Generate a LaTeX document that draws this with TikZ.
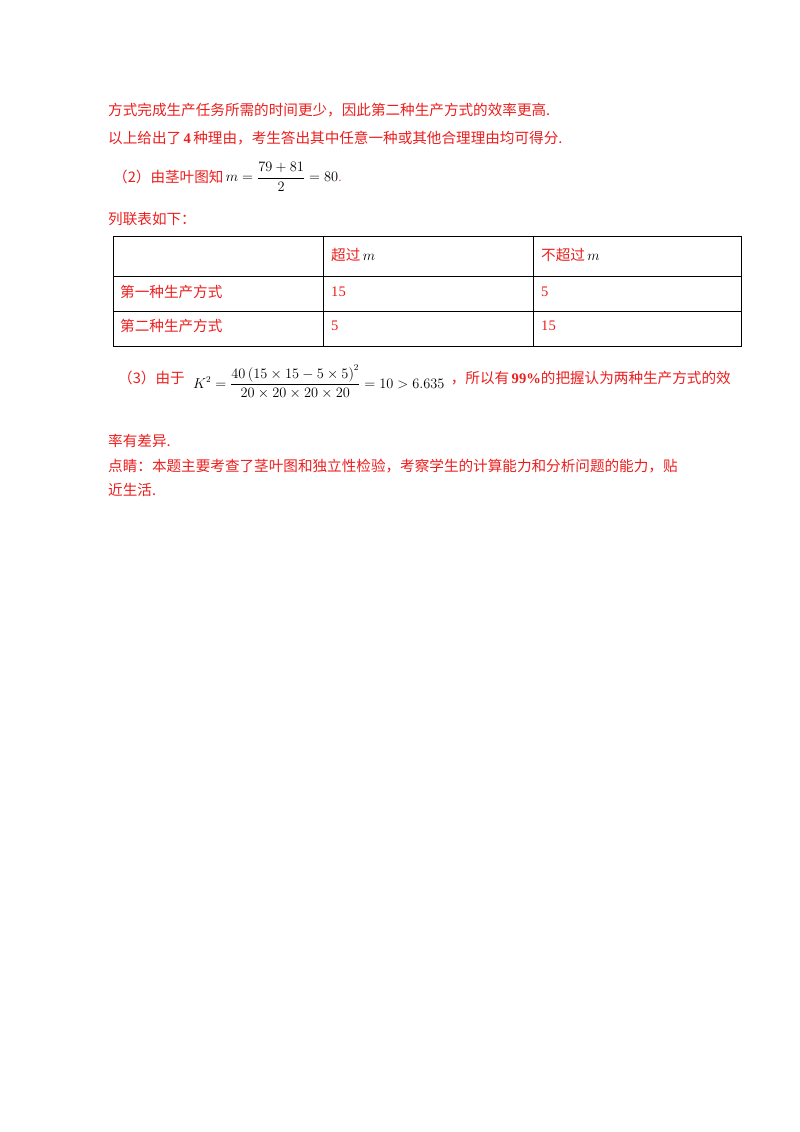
\documentclass[tikz,border=0pt]{standalone}
\usepackage{amsmath}
\usepackage{fontspec}
\setmainfont{Liberation Serif}
\newfontfamily\cjk{Noto Sans CJK SC}
\definecolor{rd}{RGB}{235,30,30}
\begin{document}
\begin{tikzpicture}[x=1pt,y=-1pt,
  txt/.style={anchor=west,inner sep=0pt,text=rd,font=\fontsize{14.6}{17}\selectfont},
  mth/.style={anchor=west,inner sep=0pt,text=black,font=\fontsize{13.5}{15}\selectfont}]
\useasboundingbox (0,0) rectangle (800,1132);
\node[txt] (l1) at (108,110) {\cjk 方式完成生产任务所需的时间更少，因此第二种生产方式的效率更高.};
\node[txt] (l2) at (108,138) {{\cjk 以上给出了}\,\textbf{4}\,{\cjk 种理由，考生答出其中任意一种或其他合理理由均可得分.}};
\node[txt] (l3) at (113,177) {\cjk （2）由茎叶图知};
\node[mth,xshift=2pt] (m1) at (l3.east) {$m=\dfrac{79+81}{2}=80\textcolor{rd}{.}$};
\node[txt] (l4) at (108,219) {\cjk 列联表如下：};
\draw[thick] (113,236) rectangle (741,346);
\draw[thick] (113,276) -- (741,276) (113,311) -- (741,311)
  (323,236) -- (323,346) (533,236) -- (533,346);
\node[txt] (h1) at (331,255) {{\cjk 超过}\,\textcolor{black}{$m$}};
\node[txt] (h2) at (541,255) {{\cjk 不超过}\,\textcolor{black}{$m$}};
\node[txt] (r1) at (120,292) {\cjk 第一种生产方式};
\node[txt] (r1a) at (331,292) {15};
\node[txt] (r1b) at (541,292) {5};
\node[txt] (r2) at (120,326) {\cjk 第二种生产方式};
\node[txt] (r2a) at (331,326) {5};
\node[txt] (r2b) at (541,326) {15};
\node[txt] (l5) at (118,378) {\cjk （3）由于};
\node[mth,xshift=8pt] (m2) at ([yshift=-4pt]l5.east) {$K^2=\dfrac{40\left(15\times15-5\times5\right)^2}{20\times20\times20\times20}=10>6.635$};
\node[txt,xshift=6pt] (l5b) at (m2.east|-l5.east) {{\cjk ，所以有}\,\textbf{99\%}{\cjk 的把握认为两种生产方式的效}};
\node[txt] (l6) at (108,441) {\cjk 率有差异.};
\node[txt] (l7) at (108,466) {\cjk 点睛：本题主要考查了茎叶图和独立性检验，考察学生的计算能力和分析问题的能力，贴};
\node[txt] (l8) at (108,490) {\cjk 近生活.};
\end{tikzpicture}
\end{document}
